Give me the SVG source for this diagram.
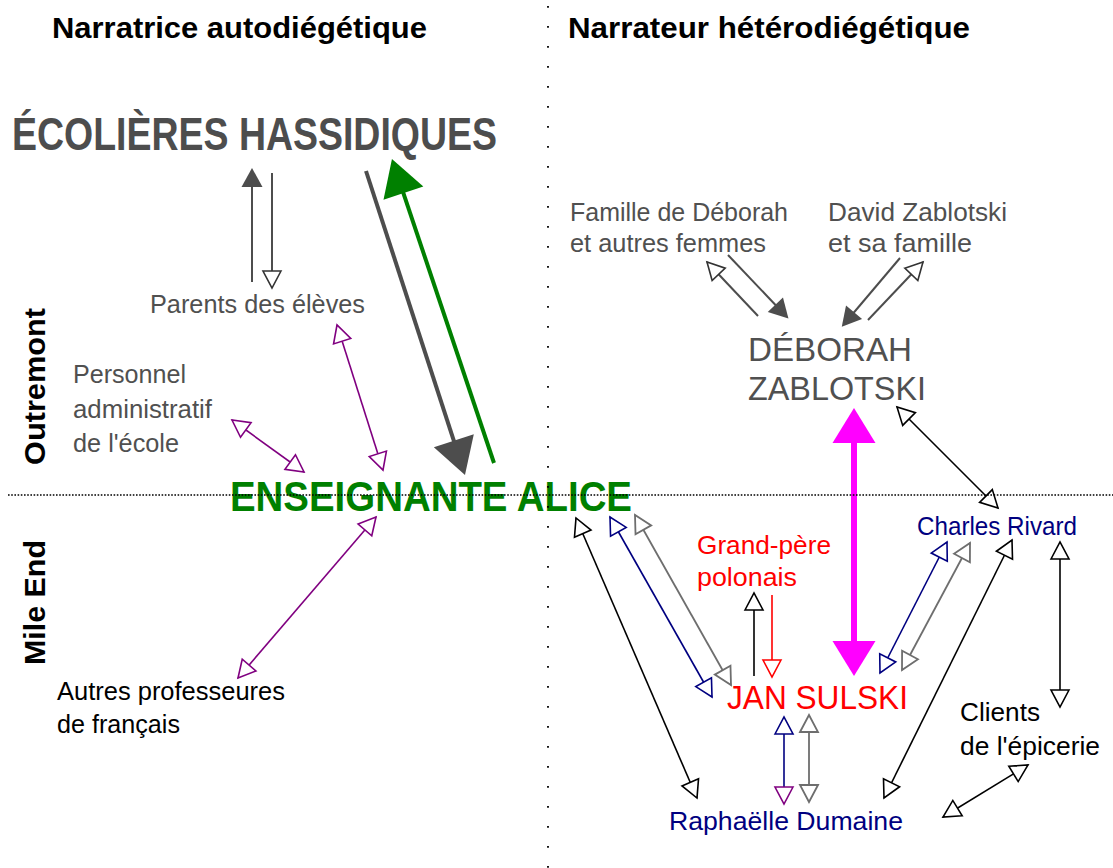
<svg xmlns="http://www.w3.org/2000/svg" width="1113" height="868" viewBox="0 0 1113 868">
<style>
text{font-family:"Liberation Sans",Arial,sans-serif;}
.h{font-weight:bold;font-size:29px;fill:#000;}
.side{font-weight:bold;font-size:30px;fill:#000;}
.g{font-size:25px;fill:#505050;}
.big{font-size:34px;fill:#505050;}
.navy{fill:#000080;}
.red{fill:#ff0000;}
.blk{fill:#000;}
.c{fill:none;stroke-linecap:butt;}
.cb{stroke:#000;stroke-width:1.6;}
.cn{stroke:#000080;stroke-width:1.6;}
.cg{stroke:#6e6e6e;stroke-width:1.8;}
.cp{stroke:#800080;stroke-width:1.6;}
.cd{stroke:#4d4d4d;stroke-width:2;}
.cr{stroke:#ff0000;stroke-width:1.6;}
</style>
<defs>
<marker id="ohb" markerUnits="userSpaceOnUse" markerWidth="20" markerHeight="20" refX="17" refY="9" orient="auto-start-reverse" overflow="visible"><path d="M0,0 L17,9 L0,18 z" fill="#fff" stroke="#000" stroke-width="1.6"/></marker>
<marker id="ohn" markerUnits="userSpaceOnUse" markerWidth="20" markerHeight="20" refX="17" refY="9" orient="auto-start-reverse" overflow="visible"><path d="M0,0 L17,9 L0,18 z" fill="#fff" stroke="#000080" stroke-width="1.6"/></marker>
<marker id="ohg" markerUnits="userSpaceOnUse" markerWidth="20" markerHeight="20" refX="17" refY="9" orient="auto-start-reverse" overflow="visible"><path d="M0,0 L17,9 L0,18 z" fill="#fff" stroke="#6e6e6e" stroke-width="1.8"/></marker>
<marker id="ohp" markerUnits="userSpaceOnUse" markerWidth="20" markerHeight="20" refX="17" refY="9" orient="auto-start-reverse" overflow="visible"><path d="M0,0 L17,9 L0,18 z" fill="#fff" stroke="#800080" stroke-width="1.6"/></marker>
<marker id="ohd" markerUnits="userSpaceOnUse" markerWidth="20" markerHeight="20" refX="17" refY="9" orient="auto-start-reverse" overflow="visible"><path d="M0,0 L17,9 L0,18 z" fill="#fff" stroke="#333" stroke-width="1.6"/></marker>
<marker id="ohr" markerUnits="userSpaceOnUse" markerWidth="20" markerHeight="20" refX="17" refY="9" orient="auto-start-reverse" overflow="visible"><path d="M0,0 L17,9 L0,18 z" fill="#fff" stroke="#ff0000" stroke-width="1.6"/></marker>
<marker id="fs" markerUnits="userSpaceOnUse" markerWidth="22" markerHeight="22" refX="14" refY="10.5" orient="auto-start-reverse" overflow="visible"><path d="M0,0 L19,10.5 L0,21 z" fill="#4d4d4d"/></marker>
<marker id="fbd" markerUnits="userSpaceOnUse" markerWidth="44" markerHeight="44" refX="28" refY="21" orient="auto-start-reverse" overflow="visible"><path d="M0,0 L36,21 L0,42 z" fill="#4d4d4d"/></marker>
<marker id="fbg" markerUnits="userSpaceOnUse" markerWidth="44" markerHeight="44" refX="28" refY="21" orient="auto-start-reverse" overflow="visible"><path d="M0,0 L36,21 L0,42 z" fill="#008000"/></marker>
<marker id="fm" markerUnits="userSpaceOnUse" markerWidth="44" markerHeight="44" refX="23" refY="21.5" orient="auto-start-reverse" overflow="visible"><path d="M0,0 L35,21.5 L0,43 z" fill="#ff00ff"/></marker>
</defs>
<rect width="1113" height="868" fill="#fff"/>

<g id="headings">
<text class="h" x="52" y="38" textLength="375" lengthAdjust="spacingAndGlyphs">Narratrice autodiégétique</text>
<text class="h" x="568" y="38" textLength="402" lengthAdjust="spacingAndGlyphs">Narrateur hétérodiégétique</text>
<text class="side" transform="translate(45,465) rotate(-90)" textLength="157" lengthAdjust="spacingAndGlyphs">Outremont</text>
<text class="side" transform="translate(45,665) rotate(-90)" textLength="125" lengthAdjust="spacingAndGlyphs">Mile End</text>
</g>

<g id="ecolieres"><text x="12" y="150" font-size="46" font-weight="bold" fill="#4d4d4d" textLength="485" lengthAdjust="spacingAndGlyphs">ÉCOLIÈRES HASSIDIQUES</text></g>
<g id="alice"><text x="230" y="511" font-size="42" font-weight="bold" fill="#008000" textLength="402" lengthAdjust="spacingAndGlyphs">ENSEIGNANTE ALICE</text></g>
<g id="parents"><text class="g" x="150" y="313" textLength="215" lengthAdjust="spacingAndGlyphs">Parents des élèves</text></g>
<g id="personnel">
<text class="g" x="73" y="383" textLength="113" lengthAdjust="spacingAndGlyphs">Personnel</text>
<text class="g" x="73" y="418" textLength="139" lengthAdjust="spacingAndGlyphs">administratif</text>
<text class="g" x="73" y="452" textLength="106" lengthAdjust="spacingAndGlyphs">de l'école</text>
</g>
<g id="autres">
<text class="g blk" x="57" y="700" textLength="228" lengthAdjust="spacingAndGlyphs">Autres professeures</text>
<text class="g blk" x="57" y="733" textLength="123" lengthAdjust="spacingAndGlyphs">de français</text>
</g>
<g id="famille">
<text class="g" x="570" y="221" textLength="218" lengthAdjust="spacingAndGlyphs">Famille de Déborah</text>
<text class="g" x="570" y="252" textLength="196" lengthAdjust="spacingAndGlyphs">et autres femmes</text>
</g>
<g id="david">
<text class="g" x="828" y="221" textLength="179" lengthAdjust="spacingAndGlyphs">David Zablotski</text>
<text class="g" x="828" y="252" textLength="144" lengthAdjust="spacingAndGlyphs">et sa famille</text>
</g>
<g id="deborah">
<text class="big" x="748" y="361" textLength="164" lengthAdjust="spacingAndGlyphs">DÉBORAH</text>
<text class="big" x="748" y="400" textLength="178" lengthAdjust="spacingAndGlyphs">ZABLOTSKI</text>
</g>
<g id="charles"><text class="g navy" x="917" y="535" textLength="160" lengthAdjust="spacingAndGlyphs">Charles Rivard</text></g>
<g id="grandpere">
<text class="g red" x="697" y="554" textLength="134" lengthAdjust="spacingAndGlyphs">Grand-père</text>
<text class="g red" x="697" y="586" textLength="100" lengthAdjust="spacingAndGlyphs">polonais</text>
</g>
<g id="jan"><text class="big red" x="727" y="709" font-size="33" textLength="181" lengthAdjust="spacingAndGlyphs">JAN SULSKI</text></g>
<g id="clients">
<text class="g blk" x="960" y="721" textLength="80" lengthAdjust="spacingAndGlyphs">Clients</text>
<text class="g blk" x="960" y="755" textLength="140" lengthAdjust="spacingAndGlyphs">de l'épicerie</text>
</g>
<g id="raphaelle"><text class="g navy" x="669" y="830" font-size="26" textLength="234" lengthAdjust="spacingAndGlyphs">Raphaëlle Dumaine</text></g>

<g id="connectors">
<path class="c cd" d="M252,282 L252,173" marker-end="url(#fs)"/>
<path class="c cd" d="M272,173 L272,288" marker-end="url(#ohd)"/>
<path class="c" d="M366,171 L462.5,467.4" stroke="#4d4d4d" stroke-width="4" marker-end="url(#fbd)"/>
<path class="c" d="M494,463 L394.5,166.6" stroke="#008000" stroke-width="4" marker-end="url(#fbg)"/>
<path class="c cp" d="M337,325 L383,470" marker-start="url(#ohp)" marker-end="url(#ohp)"/>
<path class="c cp" d="M232,420 L304,472" marker-start="url(#ohp)" marker-end="url(#ohp)"/>
<path class="c cp" d="M376,517 L238,678" marker-start="url(#ohp)" marker-end="url(#ohp)"/>

<path class="c cd" d="M758,316 L707,262" stroke="#333" marker-end="url(#ohd)"/>
<path class="c cd" d="M728,255 L785,315" marker-end="url(#fs)"/>
<path class="c cd" d="M900,258 L845,323" marker-end="url(#fs)"/>
<path class="c cd" d="M868,320 L923,262" stroke="#333" marker-end="url(#ohd)"/>

<path class="c" d="M854,420 L854,664" stroke="#ff00ff" stroke-width="6" marker-start="url(#fm)" marker-end="url(#fm)"/>
<path class="c cb" d="M897,407 L998,508" marker-start="url(#ohb)" marker-end="url(#ohb)"/>
<path class="c cb" d="M576,518 L697,798" marker-start="url(#ohb)" marker-end="url(#ohb)"/>
<path class="c cn" d="M610,517 L712,697" marker-start="url(#ohn)" marker-end="url(#ohn)"/>
<path class="c cg" d="M635,515 L731,685" marker-start="url(#ohg)" marker-end="url(#ohg)"/>
<path class="c cb" d="M754,676 L754,593" marker-end="url(#ohb)"/>
<path class="c cr" d="M772,595 L772,677" marker-end="url(#ohr)"/>
<path class="c cn" d="M947,542 L880,673" marker-start="url(#ohn)" marker-end="url(#ohn)"/>
<path class="c cg" d="M970,543 L902,670" marker-start="url(#ohg)" marker-end="url(#ohg)"/>
<path class="c cb" d="M1012,540 L884,798" marker-start="url(#ohb)" marker-end="url(#ohb)"/>
<path class="c cb" d="M1060,542 L1060,707" marker-start="url(#ohb)" marker-end="url(#ohb)"/>
<path class="c cb" d="M1028,765 L943,817" marker-start="url(#ohb)" marker-end="url(#ohb)"/>
<path class="c cn" d="M784,717 L784,804" marker-start="url(#ohn)" marker-end="url(#ohp)"/>
<path class="c cg" d="M809,715 L809,802" marker-start="url(#ohg)" marker-end="url(#ohg)"/>
</g>

<g id="dividers">
<line x1="8" y1="495" x2="1113" y2="495" stroke="#000" stroke-width="1.6" stroke-dasharray="1.6 1.6"/>
<line x1="548" y1="6" x2="548" y2="868" stroke="#000" stroke-width="1.8" stroke-dasharray="1.8 18.2"/>
</g>
</svg>
